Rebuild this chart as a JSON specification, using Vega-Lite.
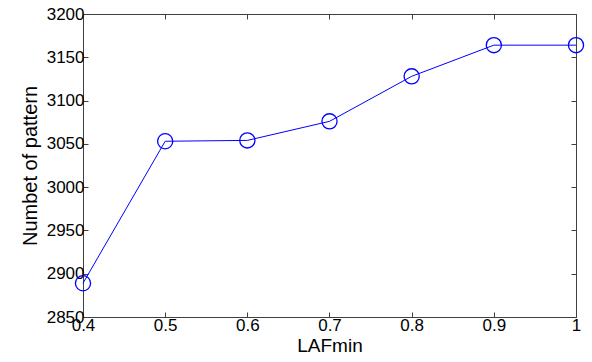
{
  "$schema": "https://vega.github.io/schema/vega-lite/v6.json",
  "autosize": "none",
  "width": 493,
  "height": 303,
  "padding": {"left": 83, "top": 14, "right": 16, "bottom": 45},
  "background": "white",
  "config": {
    "view": {"stroke": "#404040", "strokeWidth": 1},
    "font": "Liberation Sans",
    "axis": {
      "domain": false,
      "grid": false,
      "tickColor": "#404040",
      "tickSize": -5,
      "labelFont": "Liberation Sans",
      "labelFontSize": 17,
      "labelColor": "#000000",
      "titleFont": "Liberation Sans",
      "titleFontSize": 20,
      "titleFontWeight": "normal",
      "titleColor": "#000000"
    }
  },
  "data": {
    "values": [
      {"LAFmin": 0.4, "count": 2889},
      {"LAFmin": 0.5, "count": 3053},
      {"LAFmin": 0.6, "count": 3054},
      {"LAFmin": 0.7, "count": 3076},
      {"LAFmin": 0.8, "count": 3128},
      {"LAFmin": 0.9, "count": 3164},
      {"LAFmin": 1.0, "count": 3164}
    ]
  },
  "layer": [
    {
      "mark": {"type": "line", "color": "#0000ff", "strokeWidth": 1},
      "encoding": {
        "x": {
          "field": "LAFmin", "type": "quantitative",
          "scale": {"domain": [0.4, 1.0], "nice": false, "zero": false},
          "axis": {"orient": "bottom", "values": [0.4, 0.5, 0.6, 0.7, 0.8, 0.9, 1.0], "format": "~g", "title": "LAFmin", "titleFontSize": 19, "labelPadding": 5, "titlePadding": 3, "labelFlush": false}
        },
        "y": {
          "field": "count", "type": "quantitative",
          "scale": {"domain": [2850, 3200], "nice": false, "zero": false},
          "axis": {"orient": "left", "values": [2850, 2900, 2950, 3000, 3050, 3100, 3150, 3200], "format": "d", "title": "Numbet of pattern", "labelPadding": 4, "titlePadding": 6, "labelFlush": false}
        }
      }
    },
    {
      "mark": {"type": "point", "shape": "circle", "filled": false, "color": "#0000ff", "size": 230, "strokeWidth": 1.3, "opacity": 1},
      "encoding": {
        "x": {
          "field": "LAFmin", "type": "quantitative",
          "scale": {"domain": [0.4, 1.0], "nice": false, "zero": false},
          "axis": {"orient": "top", "values": [0.4, 0.5, 0.6, 0.7, 0.8, 0.9, 1.0], "labels": false, "title": null}
        },
        "y": {
          "field": "count", "type": "quantitative",
          "scale": {"domain": [2850, 3200], "nice": false, "zero": false},
          "axis": {"orient": "right", "values": [2850, 2900, 2950, 3000, 3050, 3100, 3150, 3200], "labels": false, "title": null}
        }
      }
    }
  ],
  "resolve": {"axis": {"x": "independent", "y": "independent"}}
}
